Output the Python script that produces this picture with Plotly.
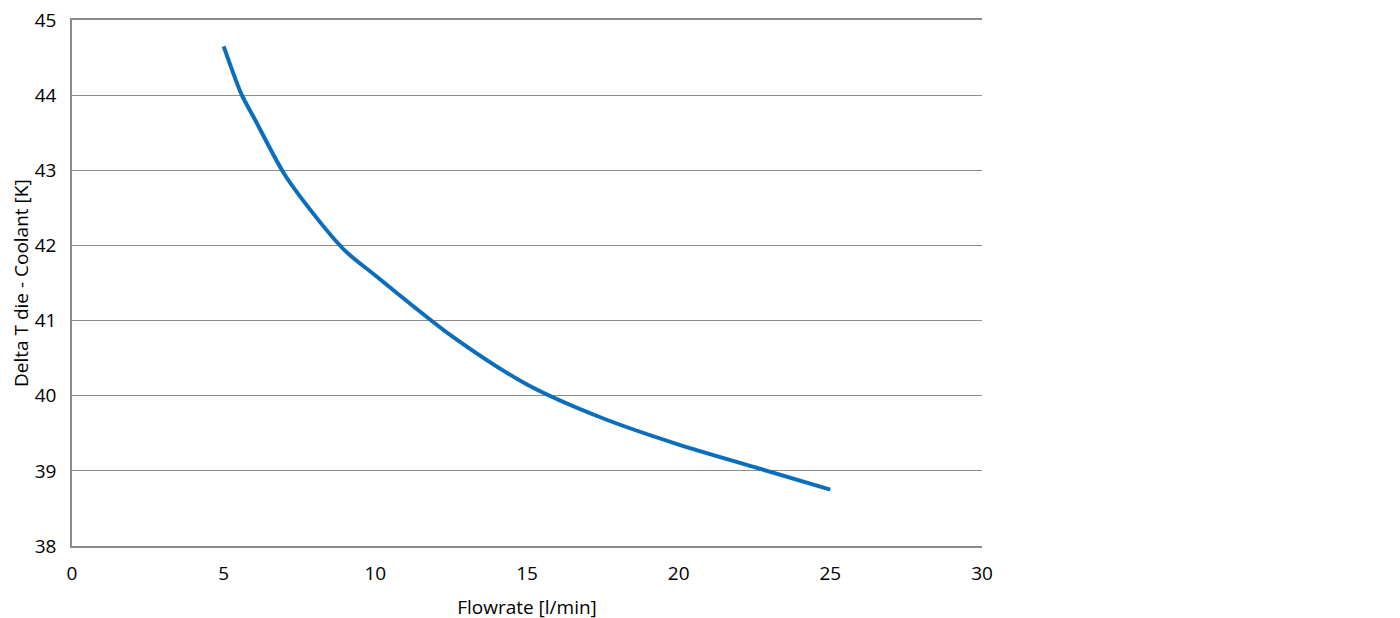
import plotly.graph_objects as go

# Flowrate [l/min] vs Delta T die - Coolant [K]
flowrate = [5, 5.6, 6, 7, 8, 9, 10, 12.5, 15, 17.5, 20, 22.5, 25]
delta_t = [44.65, 44.0, 43.7, 42.95, 42.4, 41.93, 41.6, 40.8, 40.15, 39.7, 39.35, 39.05, 38.75]

x_ticks = [0, 5, 10, 15, 20, 25, 30]
y_ticks = [38, 39, 40, 41, 42, 43, 44, 45]

fig = go.Figure()

fig.add_trace(go.Scatter(
    x=flowrate,
    y=delta_t,
    mode='lines',
    line=dict(color='#0A6EBD', width=4, shape='spline', smoothing=0.8),
    showlegend=False,
))

# the page body adds an 8px offset, so margins are shifted to compensate
fig.update_layout(
    width=1400,
    height=618,
    margin=dict(l=64, r=426, t=12, b=80),
    plot_bgcolor='white',
    paper_bgcolor='white',
    font=dict(family="Open Sans, sans-serif", color='black'),
)

fig.update_xaxes(
    range=[0, 30],
    tickvals=x_ticks,
    automargin=False,
    showgrid=False,
    zeroline=False,
    showline=True,
    mirror=True,  # top border stands in for the 45 gridline
    linecolor='#8C8C8C',
    linewidth=1.5,
    ticks='',
    ticklabelstandoff=9,
    ticklabeloverflow='allow',
    tickfont=dict(size=19),
    title=dict(text='Flowrate [l/min]', font=dict(size=19), standoff=16),
)
fig.update_yaxes(
    range=[38, 45],
    tickvals=y_ticks,
    automargin=False,
    showgrid=True,
    gridcolor='#8C8C8C',
    gridwidth=1,
    zeroline=False,
    showline=True,
    linecolor='#8C8C8C',
    linewidth=1.5,
    ticks='',
    ticklabelstandoff=10,
    ticklabeloverflow='allow',
    tickfont=dict(size=19),
)

# y title as an annotation so it can sit closer to the page edge
fig.add_annotation(
    text='Delta T die - Coolant [K]',
    xref='paper', yref='paper',
    x=0, y=0.5,
    xanchor='center', yanchor='middle',
    xshift=-51,
    textangle=-90,
    showarrow=False,
    font=dict(size=19),
)

fig.write_html("out.html")
